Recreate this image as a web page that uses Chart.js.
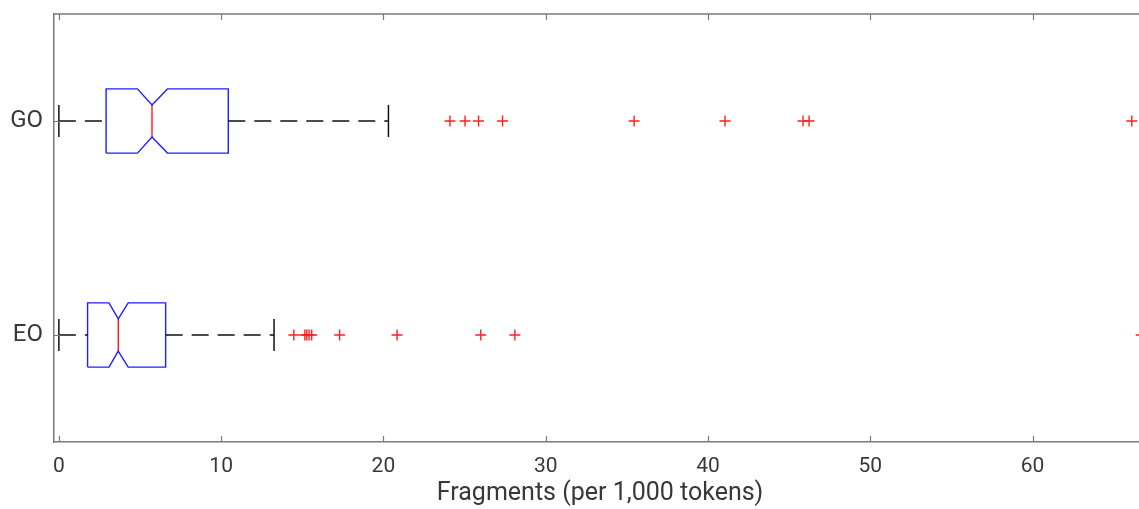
<!DOCTYPE html>
<html>
<head>
<meta charset="utf-8">
<script src="https://cdn.jsdelivr.net/npm/chart.js@4.4.1/dist/chart.umd.min.js"></script>
<style>
  html, body { margin: 0; padding: 0; background: #fff; overflow: hidden; }
  #wrap { width: 1153px; height: 509px; }
</style>
</head>
<body>
<div id="wrap"><canvas id="chart" width="1153" height="509"></canvas></div>
<script>
// groups sit at y = 1 (EO) and y = 2 (GO)
const groups = ['EO', 'GO'];
const whiskerLo = [0, 0];
const q1 = [1.77, 2.91];
const notchLo = [3.09, 4.84];
const median = [3.66, 5.74];
const notchHi = [4.27, 6.69];
const q3 = [6.58, 10.44];
const whiskerHi = [13.26, 20.31];
const outliersEO = [14.48, 15.16, 15.28, 15.42, 15.58, 17.3, 20.84, 26.0, 28.1, 66.7];
const outliersGO = [24.1, 25.03, 25.86, 27.34, 35.45, 41.05, 45.86, 46.23, 66.12];
const xTicks = [0, 10, 20, 30, 40, 50, 60];

const BOX_H = 0.15;   // half height of box (y units)
const NOTCH_H = 0.075;
const CAP_H = 0.075;

const line = (data, color, width, dash) => ({
  data, showLine: true, borderColor: color, borderWidth: width,
  borderDash: dash || [], pointRadius: 0, fill: false, tension: 0
});

const datasets = [];
groups.forEach((g, i) => {
  const y = i + 1;
  // whiskers (dashed)
  datasets.push(line([{x: whiskerLo[i], y}, {x: q1[i], y}], '#111', 1.5, [17, 9]));
  datasets.push(line([{x: q3[i], y}, {x: whiskerHi[i], y}], '#111', 1.5, [17, 9]));
  // caps
  datasets.push(line([{x: whiskerLo[i], y: y - CAP_H}, {x: whiskerLo[i], y: y + CAP_H}], '#111', 1.5));
  datasets.push(line([{x: whiskerHi[i], y: y - CAP_H}, {x: whiskerHi[i], y: y + CAP_H}], '#111', 1.5));
  // notched box
  datasets.push(line([
    {x: q1[i], y: y - BOX_H}, {x: notchLo[i], y: y - BOX_H}, {x: median[i], y: y - NOTCH_H},
    {x: notchHi[i], y: y - BOX_H}, {x: q3[i], y: y - BOX_H}, {x: q3[i], y: y + BOX_H},
    {x: notchHi[i], y: y + BOX_H}, {x: median[i], y: y + NOTCH_H}, {x: notchLo[i], y: y + BOX_H},
    {x: q1[i], y: y + BOX_H}, {x: q1[i], y: y - BOX_H}
  ], '#1f1fff', 1.4));
  // median
  datasets.push(line([{x: median[i], y: y - NOTCH_H}, {x: median[i], y: y + NOTCH_H}], '#ff1a1a', 1.4));
});

const outlierSet = (vals, y) => ({
  data: vals.map(v => ({x: v, y})), pointStyle: 'cross', pointRadius: 5.5,
  borderColor: '#ff2020', borderWidth: 1.4, showLine: false
});
datasets.push(outlierSet(outliersEO, 1));
datasets.push(outlierSet(outliersGO, 2));

const axisColor = '#7a7a7a';
const textColor = '#383838';
const family = 'Roboto, "Liberation Sans", sans-serif';
const tickFont = {family, size: 21};
const catFont = {family, size: 24};
const titleFont = {family, size: 25};

// frame on top + inward tick marks like the original plot
const framePlugin = {
  id: 'frame',
  afterDraw(chart) {
    const {ctx, chartArea: a, scales: {x, y}} = chart;
    ctx.save();
    ctx.strokeStyle = axisColor;
    ctx.lineWidth = 1.5;
    ctx.beginPath();
    ctx.moveTo(a.left, a.top);
    ctx.lineTo(a.right, a.top);
    ctx.stroke();
    ctx.lineWidth = 1.2;
    ctx.beginPath();
    x.ticks.forEach(t => {
      const px = Math.round(x.getPixelForValue(t.value)) + 0.5;
      ctx.moveTo(px, a.bottom); ctx.lineTo(px, a.bottom - 6);
      ctx.moveTo(px, a.top); ctx.lineTo(px, a.top + 6);
    });
    y.ticks.forEach(t => {
      const py = Math.round(y.getPixelForValue(t.value)) + 0.5;
      ctx.moveTo(a.left, py); ctx.lineTo(a.left + 6, py);
    });
    ctx.stroke();
    ctx.restore();
  }
};

new Chart(document.getElementById('chart'), {
  type: 'scatter',
  data: { datasets },
  options: {
    responsive: false,
    animation: false,
    events: [],
    layout: { padding: { top: 14, right: 2.5, left: 0, bottom: 0 } },
    plugins: { legend: { display: false }, tooltip: { enabled: false } },
    scales: {
      x: {
        type: 'linear', min: -0.3, max: 67,
        afterBuildTicks: s => { s.ticks = xTicks.map(v => ({value: v})); },
        afterFit: s => { s.height = 67; s.paddingLeft = 0; s.paddingRight = 0; },
        grid: { display: false, drawTicks: false },
        border: { display: true, color: axisColor, width: 1.5 },
        ticks: { color: textColor, font: tickFont, padding: 12, maxRotation: 0 },
        title: { display: true, text: 'Fragments (per 1,000 tokens)', color: textColor, font: titleFont,
                 padding: { top: 0, bottom: 0 } }
      },
      y: {
        type: 'linear', min: 0.5, max: 2.5,
        afterBuildTicks: s => { s.ticks = groups.map((g, i) => ({value: i + 1})); },
        afterFit: s => { s.width = 54; s.paddingTop = 0; s.paddingBottom = 0; },
        grid: { display: false, drawTicks: false },
        border: { display: true, color: axisColor, width: 1.5 },
        ticks: { color: textColor, font: catFont, padding: 11, callback: v => groups[v - 1] || '' }
      }
    }
  },
  plugins: [framePlugin]
});
</script>
</body>
</html>
